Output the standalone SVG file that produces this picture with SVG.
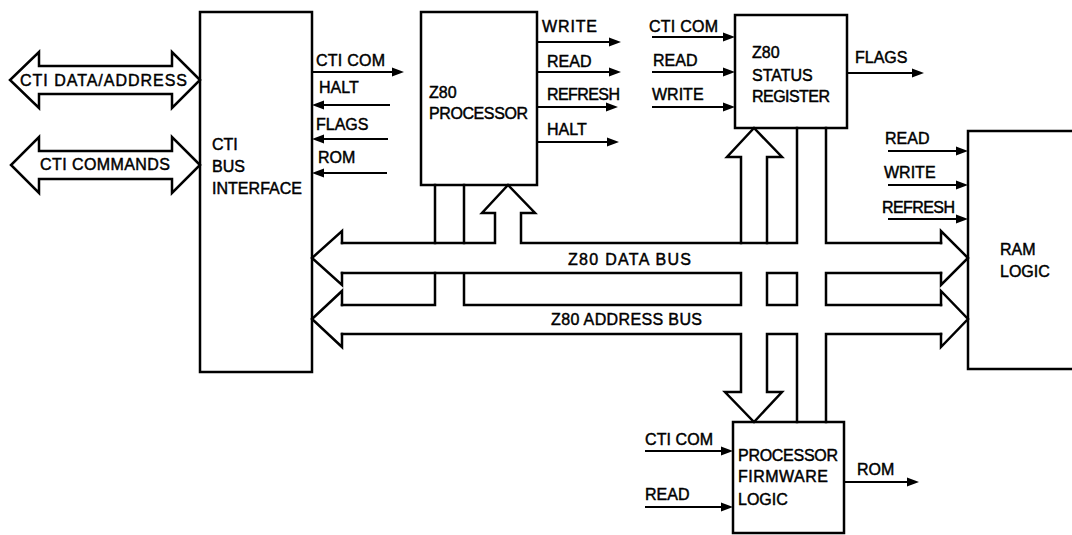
<svg xmlns="http://www.w3.org/2000/svg" width="1072" height="535" viewBox="0 0 1072 535">
<style>
  .box{fill:none;stroke:#000;stroke-width:2.5}
  .bus{fill:none;stroke:#000;stroke-width:2.5;stroke-linejoin:miter;stroke-linecap:square}
  .sig{fill:none;stroke:#000;stroke-width:2.2;marker-end:url(#ah)}
  text{font-family:"Liberation Sans",Arial,Helvetica,sans-serif;font-size:16px;fill:#000;stroke:#000;stroke-width:0.45}
</style>
<defs>
  <marker id="ah" markerUnits="userSpaceOnUse" markerWidth="12" markerHeight="10" refX="8" refY="5" orient="auto">
    <path d="M0,0.5 L12,5 L0,9.5 Z" fill="#000"/>
  </marker>
</defs>
<rect width="1072" height="535" fill="#fff"/>

<g id="cti-data-address">
  <path class="bus" d="M200,80 L172,52 L172,66 L39,66 L39,52 L10,80 L39,108 L39,94 L172,94 L172,108 Z"/>
  <text x="20" y="86" textLength="167" lengthAdjust="spacing">CTI DATA/ADDRESS</text>
</g>
<g id="cti-commands">
  <path class="bus" d="M200,165 L172,137 L172,151 L39,151 L39,137 L11,165 L39,193 L39,179 L172,179 L172,193 Z"/>
  <text x="40" y="170" textLength="130" lengthAdjust="spacing">CTI COMMANDS</text>
</g>

<g id="cti-bus-interface">
  <rect class="box" x="200" y="12" width="112" height="360"/>
  <text x="212" y="150">CTI</text>
  <text x="212" y="172">BUS</text>
  <text x="212" y="194" textLength="90" lengthAdjust="spacing">INTERFACE</text>
</g>

<g id="z80-processor">
  <rect class="box" x="421" y="12" width="116" height="173"/>
  <text x="429" y="98">Z80</text>
  <text x="429" y="119" textLength="99" lengthAdjust="spacing">PROCESSOR</text>
</g>

<g id="z80-status-register">
  <rect class="box" x="735" y="15" width="112" height="113"/>
  <text x="752" y="58">Z80</text>
  <text x="752" y="81">STATUS</text>
  <text x="752" y="102" textLength="78" lengthAdjust="spacing">REGISTER</text>
</g>

<g id="ram-logic">
  <path class="box" d="M1080,131 H968 V369 H1080"/>
  <text x="1000" y="255">RAM</text>
  <text x="1000" y="277">LOGIC</text>
</g>

<g id="processor-firmware-logic">
  <rect class="box" x="733" y="422" width="111" height="111"/>
  <text x="738" y="461" textLength="100" lengthAdjust="spacing">PROCESSOR</text>
  <text x="738" y="482" textLength="90" lengthAdjust="spacing">FIRMWARE</text>
  <text x="738" y="505">LOGIC</text>
</g>

<g id="connectors">
  <g id="buses">
    <path class="bus" d="M342,243 V231 L312,258 L342,285 V273"/>
    <path class="bus" d="M941,243 V231 L968,258 L941,285 V273"/>
    <path class="bus" d="M342,305 V291 L312,319 L342,347 V334"/>
    <path class="bus" d="M941,305 V291 L968,319 L941,347 V334"/>
    <path class="bus" d="M342,243 H495 V213 H482 L508,185 L535,213 H521 V243 H797 V128"/>
    <path class="bus" d="M741,243 V157 H727 L754,128 L782,157 H767 V243"/>
    <path class="bus" d="M826,128 V243 H941"/>
    <path class="bus" d="M435,185 V243 M464,185 V243"/>
    <path class="bus" d="M342,273 H741 V305 H464 V273"/>
    <path class="bus" d="M435,273 V305 H342"/>
    <path class="bus" d="M767,273 H797 V305 H767 Z"/>
    <path class="bus" d="M941,273 H826 V305 H941"/>
    <path class="bus" d="M342,334 H741 V392 H725 L754,422 L782,392 H767 V334 H797 V422"/>
    <path class="bus" d="M826,422 V334 H941"/>
    <text x="568" y="265" textLength="123" lengthAdjust="spacing">Z80 DATA BUS</text>
    <text x="551" y="325" textLength="151" lengthAdjust="spacing">Z80 ADDRESS BUS</text>
  </g>

  <g id="signals">
    <path class="sig" d="M312,72 H400"/>
    <text x="316" y="66" textLength="69" lengthAdjust="spacing">CTI COM</text>
    <path class="sig" d="M390,105 H316"/>
    <text x="319" y="93">HALT</text>
    <path class="sig" d="M388,139 H316"/>
    <text x="316" y="130">FLAGS</text>
    <path class="sig" d="M387,173 H316"/>
    <text x="318" y="163">ROM</text>

    <path class="sig" d="M537,42 H617"/>
    <text x="542" y="32" textLength="55" lengthAdjust="spacing">WRITE</text>
    <path class="sig" d="M537,72 H617"/>
    <text x="547" y="67">READ</text>
    <path class="sig" d="M537,107 H614"/>
    <text x="547" y="100" textLength="73" lengthAdjust="spacing">REFRESH</text>
    <path class="sig" d="M537,142 H615"/>
    <text x="547" y="135">HALT</text>

    <path class="sig" d="M652,37 H731"/>
    <text x="649" y="32" textLength="69" lengthAdjust="spacing">CTI COM</text>
    <path class="sig" d="M652,72 H731"/>
    <text x="653" y="66">READ</text>
    <path class="sig" d="M652,107 H731"/>
    <text x="652" y="100">WRITE</text>

    <path class="sig" d="M847,73 H920"/>
    <text x="855" y="63">FLAGS</text>

    <path class="sig" d="M888,151 H964"/>
    <text x="885" y="144">READ</text>
    <path class="sig" d="M888,185 H964"/>
    <text x="884" y="178">WRITE</text>
    <path class="sig" d="M888,219 H964"/>
    <text x="882" y="213" textLength="73" lengthAdjust="spacing">REFRESH</text>

    <path class="sig" d="M645,451 H729"/>
    <text x="645" y="445" textLength="68" lengthAdjust="spacing">CTI COM</text>
    <path class="sig" d="M645,507 H729"/>
    <text x="645" y="500">READ</text>
    <path class="sig" d="M844,482 H915"/>
    <text x="857" y="475">ROM</text>
  </g>
</g>
</svg>
